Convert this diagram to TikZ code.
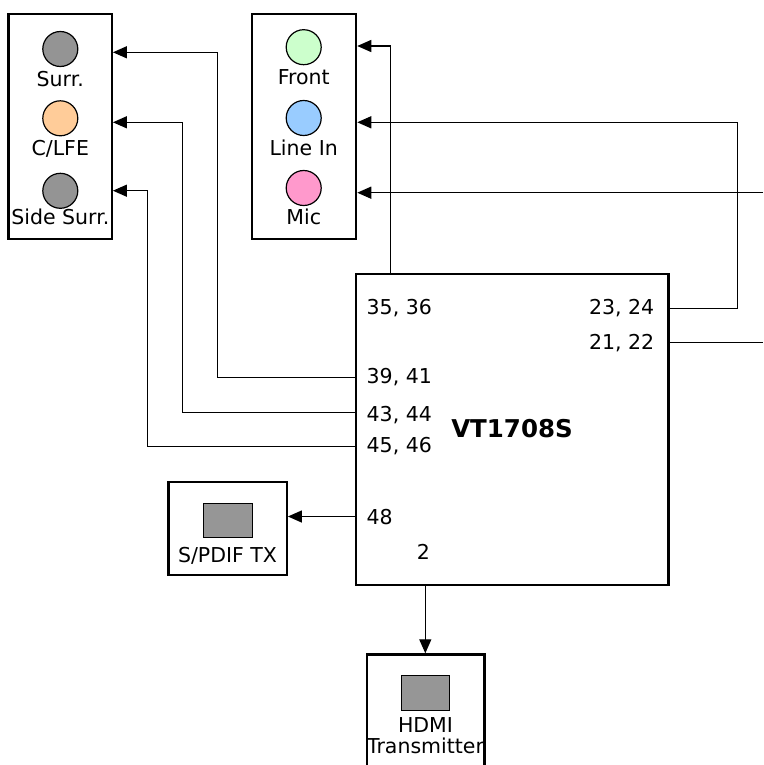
\documentclass[tikz,border=0pt]{standalone}
\usepackage{fontspec}
\setmainfont{DejaVu Sans}
\usetikzlibrary{arrows.meta}
\begin{document}
\begin{tikzpicture}[x=1pt,y=-1pt,
  panel/.style={draw, line width=2.4pt, inner sep=0pt, fill=white},
  icon/.style={draw, line width=1pt, fill=black!41, inner sep=0pt},
  jack/.style={circle, draw, line width=1.2pt, minimum size=35pt, inner sep=0pt},
  lbl/.style={font=\fontsize{20.5}{24}\selectfont, inner sep=0pt, anchor=base},
  wire/.style={line width=1.3pt, line join=miter},
  arr/.style={wire, -{Triangle[length=14pt,width=12pt]}}]
\clip (0,0) rectangle (763,765);
\fill[white] (0,0) rectangle (763,765);

% panels
\node[panel, minimum width=103.4pt, minimum height=225pt] (lbox) at (60,126.5) {};
\node[panel, minimum width=104.3pt, minimum height=225pt] (mbox) at (303.9,126.5) {};
\node[panel, minimum width=312.6pt, minimum height=311pt] (chip) at (512,429.5) {};
\node[panel, minimum width=118.4pt, minimum height=93.3pt] (spdif) at (227.5,528.4) {};
\node[panel, minimum width=117.6pt, minimum height=145pt] (hdmi) at (425.5,727) {};

% jacks
\node[jack, fill=black!42] (surr) at (60.3,49) {};
\node[jack, fill={rgb,255:red,255;green,204;blue,153}] (clfe) at (60.3,118.3) {};
\node[jack, fill=black!42] (side) at (60.3,190.8) {};
\node[jack, fill={rgb,255:red,204;green,255;blue,204}] (front) at (303.7,47.2) {};
\node[jack, fill={rgb,255:red,153;green,204;blue,255}] (linein) at (303.7,118) {};
\node[jack, fill={rgb,255:red,255;green,153;blue,204}] (mic) at (303.7,188) {};

\node[lbl] (tsurr) at (60.3,87) {Surr.};
\node[lbl] (tclfe) at (60.3,155) {C/LFE};
\node[lbl] (tside) at (60.3,224) {Side Surr.};
\node[lbl] (tfront) at (303.7,85) {Front};
\node[lbl] (tlinein) at (303.7,155) {Line In};
\node[lbl] (tmic) at (303.7,224) {Mic};

% icons
\node[icon, minimum width=49pt, minimum height=34.4pt] (spdificon) at (227.8,520.5) {};
\node[icon, minimum width=48.3pt, minimum height=34.3pt] (hdmiicon) at (425.2,692.9) {};
\node[lbl] (tspdif) at (227.5,562) {S/PDIF TX};
\node[lbl] (thdmi) at (425.5,732) {HDMI};
\node[lbl] (ttrans) at (425.5,753) {Transmitter};

% chip labels
\node[lbl, anchor=base west] (p3536) at (366.5,314) {35, 36};
\node[lbl, anchor=base west] (p3941) at (366.5,383) {39, 41};
\node[lbl, anchor=base west] (p4344) at (366.5,421) {43, 44};
\node[lbl, anchor=base west] (p4546) at (366.5,452) {45, 46};
\node[lbl, anchor=base west] (p48) at (366.5,524) {48};
\node[lbl, anchor=base east] (p2) at (430,559) {2};
\node[lbl, anchor=base east] (p2324) at (654.5,314) {23, 24};
\node[lbl, anchor=base east] (p2122) at (654.5,349) {21, 22};
\node[inner sep=0pt, anchor=base, font=\fontsize{24.5}{28}\selectfont\bfseries] (name) at (512,437) {VT1708S};

% routing coordinates
\coordinate (ya) at (0,377.7);
\coordinate (yb) at (0,412.3);
\coordinate (yc) at (0,446.7);
\coordinate (yd) at (0,516.5);
\coordinate (ye) at (0,308.3);
\coordinate (yf) at (0,342.7);
\coordinate (ta) at (0,52.3);
\coordinate (tb) at (0,122.3);
\coordinate (tc) at (0,190.7);
\coordinate (td) at (0,46);
\coordinate (xa) at (390.7,0);
\coordinate (xb) at (425.3,0);
\coordinate (rtop) at (763,192.7);
\coordinate (rbot) at (763,342.7);

% connectors
\draw[arr] (chip.west |- ya) -- (217.3,377.7) -- (217.3,52.3) -- (lbox.east |- ta);
\draw[arr] (chip.west |- yb) -- (182.3,412.3) -- (182.3,122.3) -- (lbox.east |- tb);
\draw[arr] (chip.west |- yc) -- (147.3,446.7) -- (147.3,190.7) -- (lbox.east |- tc);
\draw[arr] (chip.north -| xa) -- (390.7,46) -- (mbox.east |- td);
\draw[arr] (chip.east |- ye) -- (737.3,308.3) -- (737.3,122.3) -- (mbox.east |- tb);
\draw[arr] (rtop) -- (mbox.east |- rtop);
\draw[wire] (chip.east |- yf) -- (rbot);
\draw[arr] (chip.west |- yd) -- (spdif.east |- yd);
\draw[arr] (chip.south -| xb) -- (hdmi.north -| xb);
\end{tikzpicture}
\end{document}
